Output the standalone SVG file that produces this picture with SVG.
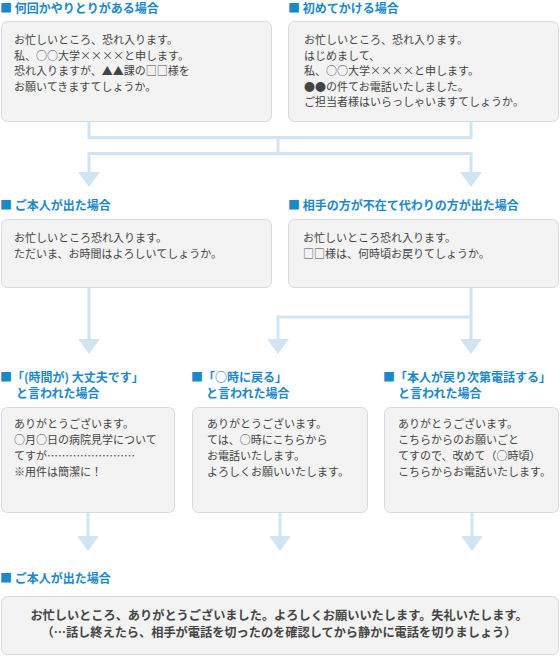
<svg xmlns="http://www.w3.org/2000/svg" width="560" height="657" viewBox="0 0 560 657">
<style>
.bg{fill:#ffffff}
.box{fill:#f3f3f3;stroke:#d9d9d9;stroke-width:1}
.ttl{font-family:"Noto Sans CJK JP","Noto Sans CJK SC",sans-serif;font-size:12px;font-weight:bold;fill:#1a88c9}
.txt{font-family:"Noto Sans CJK JP","Noto Sans CJK SC",sans-serif;font-size:11px;fill:#444444}
.big{font-family:"Noto Sans CJK JP","Noto Sans CJK SC",sans-serif;font-size:12.2px;font-weight:bold;fill:#444444;text-anchor:middle}
.con{fill:none;stroke:#cfe5f3;stroke-width:3}
.arr{fill:#cfe5f3}
</style>
<defs>
<marker id="ah" viewBox="0 0 15 22" refX="0" refY="11" markerWidth="15" markerHeight="22" markerUnits="userSpaceOnUse" orient="auto">
<path class="arr" d="M0,0 L15,11 L0,22 Z"/>
</marker>
</defs>
<rect class="bg" x="0" y="0" width="560" height="657"/>

<g id="connectors">
<path class="con" d="M89 122 V137.5 H471 V122"/>
<path class="con" d="M278 137.5 V153.5"/>
<path class="con" d="M89 153.5 H471"/>
<path class="con" d="M89 152 V172" marker-end="url(#ah)"/>
<path class="con" d="M471 152 V172" marker-end="url(#ah)"/>
<path class="con" d="M89 288 V339" marker-end="url(#ah)"/>
<path class="con" d="M471 288 V339" marker-end="url(#ah)"/>
<path class="con" d="M472.5 317 H278 V339" marker-end="url(#ah)"/>
<path class="con" d="M88 513 V536" marker-end="url(#ah)"/>
<path class="con" d="M280 513 V536" marker-end="url(#ah)"/>
<path class="con" d="M472 513 V536" marker-end="url(#ah)"/>
</g>

<g id="node1">
<text class="ttl" x="0" y="13">■ 何回かやりとりがある場合</text>
<rect class="box" x="1.5" y="21.5" width="270" height="100" rx="6"/>
<text class="txt" x="14" y="44">お忙しいところ、恐れ入ります。</text>
<text class="txt" x="14" y="59.5">私、○○大学××××と申します。</text>
<text class="txt" x="14" y="75">恐れ入りますが、▲▲課の□□様を</text>
<text class="txt" x="14" y="90.5">お願いてきますてしょうか。</text>
</g>

<g id="node2">
<text class="ttl" x="288" y="13">■ 初めてかける場合</text>
<rect class="box" x="288.5" y="21.5" width="270" height="100" rx="6"/>
<text class="txt" x="304" y="44">お忙しいところ、恐れ入ります。</text>
<text class="txt" x="304" y="59.5">はじめまして、</text>
<text class="txt" x="304" y="75">私、○○大学××××と申します。</text>
<text class="txt" x="304" y="90.5">●●の件てお電話いたしました。</text>
<text class="txt" x="304" y="106">ご担当者様はいらっしゃいますてしょうか。</text>
</g>

<g id="node3">
<text class="ttl" x="0" y="209.5">■ ご本人が出た場合</text>
<rect class="box" x="1.5" y="219.5" width="270" height="68" rx="6"/>
<text class="txt" x="14" y="241.5">お忙しいところ恐れ入ります。</text>
<text class="txt" x="14" y="257.5">ただいま、お時間はよろしいてしょうか。</text>
</g>

<g id="node4">
<text class="ttl" x="288" y="209.5">■ 相手の方が不在て代わりの方が出た場合</text>
<rect class="box" x="288.5" y="219.5" width="270" height="68" rx="6"/>
<text class="txt" x="303" y="241.5">お忙しいところ恐れ入ります。</text>
<text class="txt" x="303" y="257.5">□□様は、何時頃お戻りてしょうか。</text>
</g>

<g id="node5">
<text class="ttl" x="0" y="381.5">■「(時間が) 大丈夫です」</text>
<text class="ttl" x="16" y="397.5">と言われた場合</text>
<rect class="box" x="1.5" y="407.5" width="173" height="105" rx="6"/>
<text class="txt" x="14" y="428">ありがとうございます。</text>
<text class="txt" x="14" y="444">○月○日の病院見学について</text>
<text class="txt" x="14" y="460">てすが……………………</text>
<text class="txt" x="14" y="476">※用件は簡潔に！</text>
</g>

<g id="node6">
<text class="ttl" x="191" y="381.5">■「○時に戻る」</text>
<text class="ttl" x="206" y="397.5">と言われた場合</text>
<rect class="box" x="192.5" y="407.5" width="175" height="105" rx="6"/>
<text class="txt" x="207" y="428">ありがとうございます。</text>
<text class="txt" x="207" y="444">ては、○時にこちらから</text>
<text class="txt" x="207" y="460">お電話いたします。</text>
<text class="txt" x="207" y="476">よろしくお願いいたします。</text>
</g>

<g id="node7">
<text class="ttl" x="383" y="381.5">■「本人が戻り次第電話する」</text>
<text class="ttl" x="398" y="397.5">と言われた場合</text>
<rect class="box" x="384.5" y="407.5" width="174" height="105" rx="6"/>
<text class="txt" x="398" y="428">ありがとうございます。</text>
<text class="txt" x="398" y="444">こちらからのお願いごと</text>
<text class="txt" x="398" y="460">てすので、改めて（○時頃）</text>
<text class="txt" x="398" y="476">こちらからお電話いたします。</text>
</g>

<g id="node8">
<text class="ttl" x="0" y="583">■ ご本人が出た場合</text>
<rect class="box" x="1.5" y="596.5" width="557" height="58" rx="6"/>
<text class="big" x="279" y="620">お忙しいところ、ありがとうございました。よろしくお願いいたします。失礼いたします。</text>
<text class="big" x="279" y="637">（…話し終えたら、相手が電話を切ったのを確認してから静かに電話を切りましょう）</text>
</g>
</svg>
